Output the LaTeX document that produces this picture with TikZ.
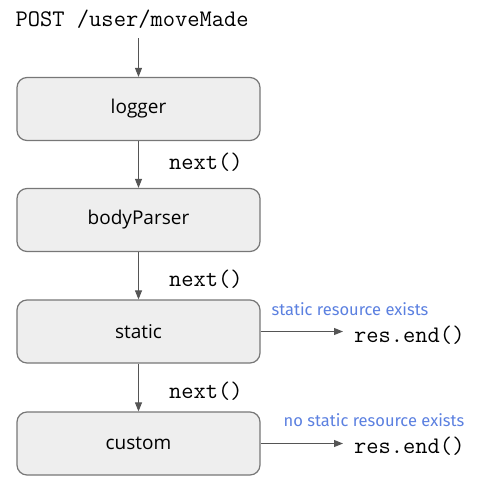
\documentclass[tikz,border=0pt]{standalone}
\usepackage{fontspec}
\setmainfont{Open Sans}
\newfontfamily\labf{Fira Sans}
\usetikzlibrary{arrows.meta}
\definecolor{boxfill}{HTML}{EEEEEE}
\definecolor{boxdraw}{HTML}{777777}
\definecolor{arr}{HTML}{555555}
\definecolor{bluelab}{HTML}{5B80E0}
\begin{document}
\begin{tikzpicture}[x=1pt,y=-1pt,
  mwbox/.style={draw=boxdraw, line width=1.2pt, fill=boxfill, rounded corners=10pt,
    minimum width=243pt, minimum height=63pt, inner sep=0pt,
    font=\fontsize{19}{21}\selectfont},
  conn/.style={draw=arr, line width=1pt, -{Triangle[length=9pt,width=7pt]}},
  code/.style={font=\ttfamily\fontsize{23.8}{25}\selectfont, inner sep=0pt, text=black},
  cond/.style={font=\labf\fontsize{16.5}{18}\selectfont, inner sep=0pt, text=bluelab}]
\useasboundingbox (0,0) rectangle (499,491);
\node[code, anchor=base west] (post) at (15.5,26) {POST /user/moveMade};
\node[mwbox] (logger) at (138.5,109) {logger};
\node[mwbox] (body) at (138.5,220) {bodyParser};
\node[mwbox] (static) at (138.5,331.5) {static};
\node[mwbox] (custom) at (138.5,443.5) {custom};
\coordinate (ptop) at (138.5,38);
\draw[conn] (ptop) -- (logger.north);
\draw[conn] (logger) -- (body);
\draw[conn] (body) -- (static);
\draw[conn] (static) -- (custom);
\node[code, anchor=base west] (n1) at (169,169) {next()};
\node[code, anchor=base west] (n2) at (169,286) {next()};
\node[code, anchor=base west] (n3) at (169,398) {next()};
\node[code, anchor=base west] (r1) at (354,342) {res.end()};
\node[code, anchor=base west] (r2) at (354,453) {res.end()};
\coordinate (e1) at (343,331.5);
\coordinate (e2) at (343,443.5);
\draw[conn] (static.east) -- (e1);
\draw[conn] (custom.east) -- (e2);
\node[cond, anchor=base] (c1) at (350,315) {static resource exists};
\node[cond, anchor=base] (c2) at (374,426) {no static resource exists};
\end{tikzpicture}
\end{document}
